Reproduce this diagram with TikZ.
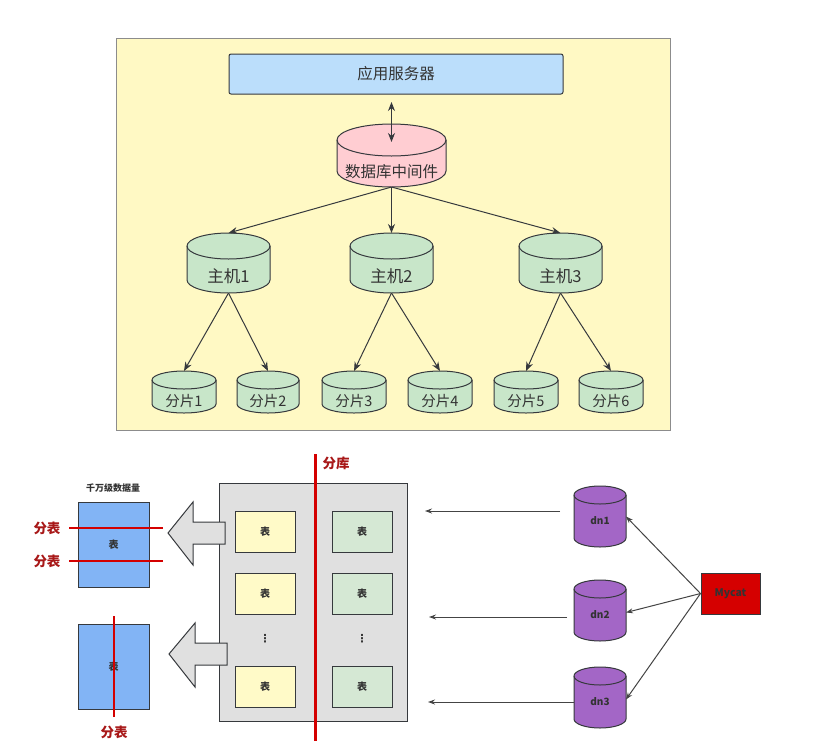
\documentclass[tikz,border=0pt]{standalone}
\usepackage{fontspec}
\setmainfont{Noto Sans CJK SC}
\newfontfamily\djv{DejaVu Sans}
\usetikzlibrary{arrows.meta,calc}
\definecolor{panelfill}{HTML}{FFF9C4}
\definecolor{panelline}{HTML}{8C8C8C}
\definecolor{appfill}{HTML}{BBDEFB}
\definecolor{pinkfill}{HTML}{FFCDD2}
\definecolor{greenfill}{HTML}{C8E6C9}
\definecolor{lc}{HTML}{36393D}
\definecolor{tc}{HTML}{333333}
\definecolor{bluefill}{HTML}{82B4F5}
\definecolor{tabyellow}{HTML}{FFFAC8}
\definecolor{tabgreen}{HTML}{D5E8D4}
\definecolor{grayfill}{HTML}{E0E0E0}
\definecolor{purplefill}{HTML}{A366C6}
\definecolor{redline}{HTML}{D40000}
\definecolor{redtext}{HTML}{A81818}
\definecolor{mycatfill}{HTML}{D50000}
\definecolor{arrline}{HTML}{444444}
\newcommand\mycyl[9]{%
  \pgfmathsetmacro\mcX{(#2+#3)/2}%
  \pgfmathsetmacro\mcRx{(#3-#2)/2}%
  \pgfmathsetmacro\mcYt{-(#4)-(#6)}%
  \pgfmathsetmacro\mcYb{-(#5)+(#6)}%
  \pgfmathsetmacro\mcT{-((#4)+2*(#6)+(#5))/2}%
  \pgfmathsetmacro\mcY{-((#4)+(#5))/2}%
  \pgfmathsetmacro\mcW{(#3)-(#2)}%
  \pgfmathsetmacro\mcH{(#5)-(#4)}%
  \path[cylline, fill=#7] (#2,\mcYt) -- (#2,\mcYb)
     arc[start angle=180, end angle=360, x radius=\mcRx pt, y radius=#6 pt]
     -- (#3,\mcYt)
     arc[start angle=0, end angle=180, x radius=\mcRx pt, y radius=#6 pt] -- cycle;
  \draw[cylline] (#2,\mcYt) arc[start angle=180, end angle=360, x radius=\mcRx pt, y radius=#6 pt];
  \node[inner sep=0pt, outer sep=0pt, minimum width=\mcW pt, minimum height=\mcH pt] (#1) at (\mcX,\mcY) {};
  \node[#8] at (\mcX,\mcT) {#9};
}
\tikzset{
  cylline/.style={draw=lc, line width=1pt},
  toptext/.style={text=tc, font=\fontsize{15.5}{18}\selectfont, inner sep=0pt},
  hosttext/.style={text=tc, font=\fontsize{16.5}{19}\selectfont, inner sep=0pt},
  shardtext/.style={text=tc, font=\fontsize{14.5}{17}\selectfont, inner sep=0pt},
  dntext/.style={text=tc, font=\fontsize{10}{12}\selectfont\bfseries, inner sep=0pt},
  toparr/.style={draw=lc, line width=1pt, -{Stealth[length=9pt,width=7pt]}},
  topdarr/.style={draw=lc, line width=1pt, {Stealth[length=9pt,width=7pt]}-{Stealth[length=9pt,width=7pt]}},
  botarr/.style={draw=arrline, line width=1pt, -{Stealth[length=7pt,width=5pt]}},
  tabbox/.style={draw=lc, line width=1pt, minimum width=60pt, minimum height=41pt, inner sep=0pt,
     text=tc, font=\fontsize{10}{12}\selectfont\bfseries},
  bluebox/.style={draw=lc, line width=1pt, fill=bluefill, minimum width=71pt, minimum height=85pt, inner sep=0pt,
     text=tc, font=\fontsize{10}{12}\selectfont\bfseries},
  redlabel/.style={text=redtext, font=\fontsize{13.5}{16}\selectfont\bfseries, inner sep=0pt},
  cut/.style={draw=redline, line width=2.2pt},
  blockarr/.style={draw=lc, line width=1pt, fill=grayfill, line join=miter},
  dotstext/.style={text=tc, font=\djv\fontsize{11}{12}\selectfont\bfseries, inner sep=0pt},
}
\begin{document}
\begin{tikzpicture}[x=1pt, y=1pt]
\useasboundingbox (0,0) rectangle (828,-748);
\fill[white] (0,0) rectangle (828,-748);

% ---------- top panel ----------
\node[draw=panelline, line width=1pt, fill=panelfill, minimum width=554pt, minimum height=392pt, inner sep=0pt]
  (panel) at (393,-234) {};
\node[draw=lc, line width=1pt, fill=appfill, rounded corners=2pt, minimum width=334pt, minimum height=40pt,
  inner sep=0pt, text=tc, font=\fontsize{15.5}{18}\selectfont] (app) at (396,-74) {应用服务器};

\mycyl{mw}{337}{446}{124}{187}{16}{pinkfill}{toptext}{数据库中间件}
\mycyl{h1}{187}{270}{233}{293}{13}{greenfill}{hosttext}{主机1}
\mycyl{h2}{350}{433}{233}{293}{13}{greenfill}{hosttext}{主机2}
\mycyl{h3}{519}{602}{233}{293}{13}{greenfill}{hosttext}{主机3}
\mycyl{s1}{152}{216}{371}{413}{9}{greenfill}{shardtext}{分片1}
\mycyl{s2}{237}{299}{371}{413}{9}{greenfill}{shardtext}{分片2}
\mycyl{s3}{322}{386}{371}{413}{9}{greenfill}{shardtext}{分片3}
\mycyl{s4}{408}{472}{371}{413}{9}{greenfill}{shardtext}{分片4}
\mycyl{s5}{494}{558}{371}{413}{9}{greenfill}{shardtext}{分片5}
\mycyl{s6}{579}{643}{371}{413}{9}{greenfill}{shardtext}{分片6}

\draw[topdarr] ($(mw.north)+(0,22)$) -- ($(mw.north)+(0,-18)$);
\draw[toparr] (mw.south) -- (h1.north);
\draw[toparr] (mw.south) -- (h2.north);
\draw[toparr] (mw.south) -- (h3.north);
\draw[toparr] (h1.south) -- (s1.north);
\draw[toparr] (h1.south) -- (s2.north);
\draw[toparr] (h2.south) -- (s3.north);
\draw[toparr] (h2.south) -- (s4.north);
\draw[toparr] (h3.south) -- (s5.north);
\draw[toparr] (h3.south) -- (s6.north);

% ---------- bottom: database box ----------
\node[draw=lc, line width=1pt, fill=grayfill, minimum width=188pt, minimum height=238pt, inner sep=0pt]
  (gb) at (313,-602) {};

\path[blockarr] (168,-533) -- (193,-502) -- (193,-522) -- (225,-522) -- (225,-544) -- (193,-544) -- (193,-565) -- cycle;
\path[blockarr] (169,-654) -- (195,-623) -- (195,-643) -- (227,-643) -- (227,-665) -- (195,-665) -- (195,-687) -- cycle;

\node[tabbox, fill=tabyellow] (y1) at (265,-531.5) {表};
\node[tabbox, fill=tabyellow] (y2) at (265,-593.5) {表};
\node[tabbox, fill=tabyellow] (y3) at (265,-686.5) {表};
\node[tabbox, fill=tabgreen] (g1) at (362,-531.5) {表};
\node[tabbox, fill=tabgreen] (g2) at (362,-593.5) {表};
\node[tabbox, fill=tabgreen] (g3) at (362,-686.5) {表};
\node[dotstext] (yd) at (265,-639) {⋮};
\node[dotstext] (gd) at (362,-639) {⋮};

\coordinate (kt) at (315.5,-454);
\coordinate (kb) at (315.5,-741);
\draw[cut] (kt) -- (kb);
\node[redlabel] (fk) at (336,-463) {分库};

% ---------- bottom: split tables ----------
\node[text=tc, font=\fontsize{9}{11}\selectfont\bfseries, inner sep=0pt] (qw) at (113,-488) {千万级数据量};
\node[bluebox] (b1) at (113.5,-544.5) {表};
\node[bluebox] (b2) at (113.5,-666.5) {表};

\coordinate (c1a) at (69,-528);  \coordinate (c1b) at (163,-528);
\coordinate (c2a) at (69,-561);  \coordinate (c2b) at (163,-561);
\coordinate (c3a) at (114,-616); \coordinate (c3b) at (114,-717);
\draw[cut] (c1a) -- (c1b);
\draw[cut] (c2a) -- (c2b);
\draw[cut] (c3a) -- (c3b);
\node[redlabel] (f1) at (47,-528) {分表};
\node[redlabel] (f2) at (47,-561) {分表};
\node[redlabel] (f3) at (114,-732) {分表};

% ---------- bottom: data nodes and Mycat ----------
\mycyl{dn1}{574}{626}{486}{547}{9}{purplefill}{dntext, yshift=5pt}{dn1}
\mycyl{dn2}{574}{626}{580}{641}{9}{purplefill}{dntext, yshift=5pt}{dn2}
\mycyl{dn3}{574}{626}{667}{728}{9}{purplefill}{dntext, yshift=5pt}{dn3}

\node[draw=lc, line width=1pt, fill=mycatfill, minimum width=59pt, minimum height=41pt, inner sep=0pt,
  text=tc, font=\fontsize{10.5}{12}\selectfont\bfseries] (mycat) at (730.5,-593.5) {Mycat};

\draw[botarr] (mycat.west) -- (dn1.east);
\draw[botarr] (mycat.west) -- ($(dn2.east)+(0,-2)$);
\draw[botarr] (mycat.west) -- ($(dn3.east)+(0,-2)$);

\coordinate (l1s) at (560,-511); \coordinate (l1e) at (425,-511);
\coordinate (l2s) at (567,-617); \coordinate (l2e) at (429,-617);
\coordinate (l3s) at (574,-702); \coordinate (l3e) at (428,-702);
\draw[botarr] (l1s) -- (l1e);
\draw[botarr] (l2s) -- (l2e);
\draw[botarr] (l3s) -- (l3e);
\end{tikzpicture}
\end{document}
